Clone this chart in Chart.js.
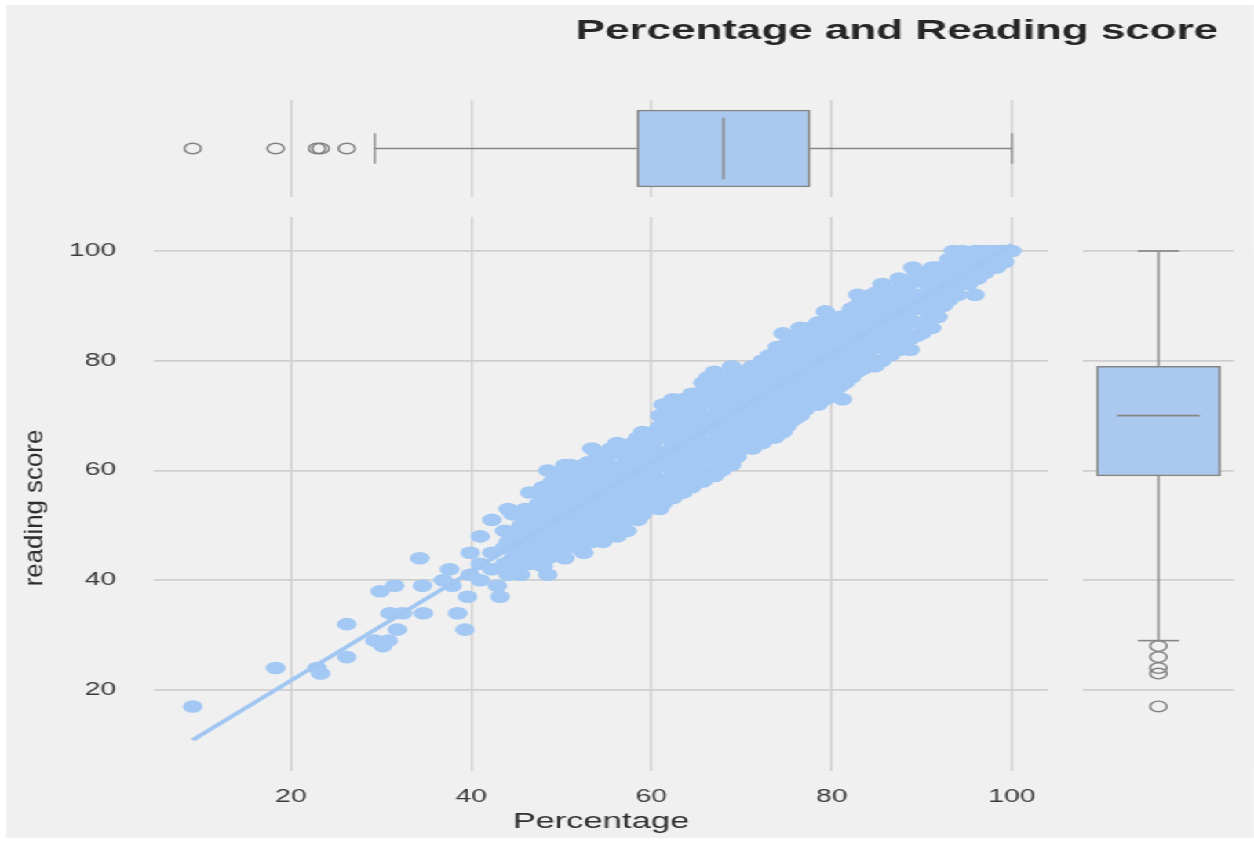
<!DOCTYPE html>
<html>
<head>
<meta charset="utf-8">
<script src="https://cdn.jsdelivr.net/npm/chart.js@4.4.1/dist/chart.umd.min.js"></script>
<style>
  html, body { margin:0; padding:0; background:#ffffff; overflow:hidden; width:1254px; height:843px; }
  #stage { position:absolute; left:0; top:0; width:799px; height:843px; transform:scaleX(1.5695); transform-origin:0 0; }
  #bg { position:absolute; left:3.8px; top:5px; width:795.2px; height:833px; background:#f0f0f0; }
  canvas { position:absolute; }
</style>
</head>
<body>
<div id="stage">
  <div id="bg"></div>
  <canvas id="topBox" width="799" height="205" style="left:0;top:0;"></canvas>
  <canvas id="main" width="680" height="633" style="left:0;top:210px;"></canvas>
  <canvas id="rightBox" width="118" height="633" style="left:681px;top:210px;"></canvas>
</div>
<script>
// ---------------- data ----------------
const percentage = [
  9.1, 18.3, 22.9, 23.3, 26.2, 26.2, 29.3, 29.9, 30.2, 30.8, 31.0, 31.5, 31.8, 32.4,
  34.3, 34.6, 34.7, 36.9, 37.6, 37.9, 38.5, 39.3, 39.6, 39.9, 39.9,
  41.0, 41.0, 41.0, 42.3, 42.3, 42.3, 42.9, 43.2, 43.7, 43.7, 43.7, 44.1, 44.1, 44.1, 44.6, 44.6,
  45.5, 45.5, 45.5, 45.5,
  46.5, 46.5, 46.5, 46.5, 46.5,
  47.5, 47.5, 47.5, 47.5, 47.5,
  48.5, 48.5, 48.5, 48.5, 48.5, 48.5, 48.5,
  49.5, 49.5, 49.5, 49.5, 49.5, 49.5,
  50.4, 50.4, 50.4, 50.4, 50.4, 50.4, 50.4,
  51.5, 51.5, 51.5, 51.5, 51.5, 51.5,
  52.5, 52.5, 52.5, 52.5, 52.5, 52.5, 52.5,
  53.4, 53.4, 53.4, 53.4, 53.4, 53.4, 53.4,
  54.6, 54.6, 54.6, 54.6, 54.6, 54.6, 54.6,
  55.5, 55.5, 55.5, 55.5, 55.5, 55.5, 55.5,
  56.2, 56.2, 56.2, 56.2, 56.2,
  57.3, 57.3, 57.3, 57.3, 57.3, 57.3, 57.3,
  58.5, 58.5, 58.5, 58.5, 58.5, 58.5, 58.5,
  59.5, 59.5, 59.5, 59.5, 59.5, 59.5,
  60.9, 60.9, 60.9, 60.9, 60.9, 60.9, 60.9, 60.9,
  61.3, 61.3,
  62.4, 62.4, 62.4, 62.4, 62.4, 62.4, 62.4, 62.4,
  63.5, 63.5, 63.5, 63.5, 63.5, 63.5, 63.5, 63.5,
  64.5, 64.5, 64.5, 64.5, 64.5, 64.5, 64.5, 64.5,
  65.7, 65.7, 65.7, 65.7, 65.7, 65.7, 65.7, 65.7,
  67.0, 67.0, 67.0, 67.0, 67.0, 67.0, 67.0, 67.0,
  67.8, 67.8, 67.8, 67.8, 67.8, 67.8, 67.8,
  68.9, 68.9, 68.9, 68.9, 68.9, 68.9, 68.9, 68.9,
  70.2, 70.2, 70.2, 70.2, 70.2, 70.2, 70.2,
  71.2, 71.2, 71.2, 71.2, 71.2, 71.2, 71.2,
  72.3, 72.3, 72.3, 72.3, 72.3, 72.3, 72.3,
  73.1, 73.1, 73.1, 73.1, 73.1, 73.1, 73.1,
  73.7, 73.7,
  74.6, 74.6, 74.6, 74.6, 74.6, 74.6, 74.6, 74.6,
  75.5, 75.5, 75.5, 75.5, 75.5, 75.5, 75.5,
  76.5, 76.5, 76.5, 76.5, 76.5, 76.5, 76.5,
  77.6, 77.6, 77.6, 77.6, 77.6, 77.6, 77.6,
  78.5, 78.5, 78.5, 78.5, 78.5, 78.5, 78.5,
  79.3, 79.3, 79.3, 79.3, 79.3, 79.3, 79.3,
  80.6, 80.6, 80.6, 80.6, 80.6, 80.6,
  81.2,
  81.5, 81.5, 81.5, 81.5, 81.5, 81.5,
  82.8, 82.8, 82.8, 82.8, 82.8, 82.8,
  82.9,
  84.0, 84.0, 84.0, 84.0, 84.0, 84.0,
  84.8,
  85.6, 85.6, 85.6, 85.6, 85.6, 85.6,
  86.5, 86.5, 86.5, 86.5, 86.5,
  87.5, 87.5, 87.5, 87.5, 87.5, 87.5,
  88.7, 88.7, 88.7, 88.7, 88.7, 88.7,
  89.0,
  90.0, 90.0, 90.0, 90.0, 90.0, 90.0,
  91.1, 91.1, 91.1, 91.1, 91.1,
  91.2,
  92.4, 92.4, 92.4, 92.4,
  93.5, 93.5, 93.5, 93.5,
  94.5, 94.5, 94.5, 94.5,
  95.9, 95.9, 95.9, 95.9,
  96.7, 96.7, 96.7,
  97.5, 97.5, 97.5,
  98.3, 98.3, 98.3,
  99.2, 99.2,
  99.8, 100.0,
  // second pass through the dense band
  45.0, 45.0, 45.0,
  46.0, 46.0, 46.0, 46.0,
  47.0, 47.0, 47.0, 47.0,
  48.0, 48.0, 48.0, 48.0, 48.0, 48.0,
  49.0, 49.0, 49.0, 49.0, 49.0,
  50.0, 50.0, 50.0, 50.0, 50.0, 50.0,
  51.0, 51.0, 51.0, 51.0, 51.0, 51.0,
  52.0, 52.0, 52.0, 52.0, 52.0, 52.0,
  53.0, 53.0, 53.0, 53.0, 53.0, 53.0,
  54.0, 54.0, 54.0, 54.0, 54.0, 54.0, 54.0,
  55.0, 55.0, 55.0, 55.0, 55.0, 55.0, 55.0,
  56.8, 56.8, 56.8, 56.8, 56.8, 56.8,
  58.0, 58.0, 58.0, 58.0, 58.0, 58.0,
  59.0, 59.0, 59.0, 59.0, 59.0, 59.0, 59.0,
  60.2, 60.2, 60.2, 60.2, 60.2, 60.2,
  61.8, 61.8, 61.8, 61.8, 61.8, 61.8, 61.8,
  63.0, 63.0, 63.0, 63.0, 63.0, 63.0, 63.0,
  64.0, 64.0, 64.0, 64.0, 64.0, 64.0, 64.0,
  65.1, 65.1, 65.1, 65.1, 65.1, 65.1, 65.1,
  66.3, 66.3, 66.3, 66.3, 66.3, 66.3, 66.3, 66.3,
  67.4, 67.4, 67.4, 67.4, 67.4, 67.4, 67.4,
  68.3, 68.3, 68.3, 68.3, 68.3, 68.3, 68.3,
  69.5, 69.5, 69.5, 69.5, 69.5, 69.5, 69.5,
  70.7, 70.7, 70.7, 70.7, 70.7, 70.7,
  71.8, 71.8, 71.8, 71.8, 71.8, 71.8,
  72.8, 72.8, 72.8, 72.8, 72.8, 72.8,
  74.0, 74.0, 74.0, 74.0, 74.0, 74.0, 74.0,
  75.0, 75.0, 75.0, 75.0, 75.0, 75.0, 75.0,
  76.0, 76.0, 76.0, 76.0, 76.0, 76.0, 76.0,
  77.0, 77.0, 77.0, 77.0, 77.0, 77.0, 77.0,
  78.0, 78.0, 78.0, 78.0, 78.0, 78.0,
  79.0, 79.0, 79.0, 79.0, 79.0, 79.0,
  80.0, 80.0, 80.0, 80.0, 80.0, 80.0, 80.0,
  81.0, 81.0, 81.0, 81.0, 81.0, 81.0,
  82.2, 82.2, 82.2, 82.2, 82.2, 82.2,
  83.4, 83.4, 83.4, 83.4, 83.4, 83.4,
  84.4, 84.4, 84.4, 84.4, 84.4, 84.4,
  85.0, 85.0, 85.0, 85.0, 85.0, 85.0,
  86.0, 86.0, 86.0, 86.0, 86.0,
  87.0, 87.0, 87.0, 87.0, 87.0,
  88.1, 88.1, 88.1, 88.1, 88.1,
  89.4, 89.4, 89.4, 89.4, 89.4, 89.4,
  90.6, 90.6, 90.6, 90.6, 90.6,
  91.8, 91.8, 91.8, 91.8, 91.8,
  93.0, 93.0, 93.0, 93.0,
  94.0, 94.0, 94.0, 94.0,
  95.2, 95.2, 95.2,
  96.2, 96.2, 96.2,
  97.0, 97.0,
  98.8, 98.8
];
const readingScore = [
  17, 24, 24, 23, 32, 26, 29, 38, 28, 29, 34, 39, 31, 34,
  44, 39, 34, 40, 42, 39, 34, 31, 37, 45, 41,
  48, 43, 40, 51, 45, 42, 39, 37, 49, 46, 43, 53, 47, 41, 52, 44,
  41, 44, 47, 50,
  56, 52, 49, 46, 43,
  43, 46, 49, 52, 54,
  41, 44, 47, 50, 53, 56, 60,
  45, 48, 51, 54, 57, 59,
  44, 47, 50, 52, 55, 58, 61,
  46, 49, 52, 54, 57, 60,
  45, 48, 51, 53, 56, 58, 61,
  47, 50, 52, 55, 57, 60, 64,
  47, 50, 52, 54, 57, 59, 62,
  49, 51, 54, 56, 59, 61, 64,
  48, 53, 58, 60, 65,
  49, 52, 54, 57, 59, 62, 64,
  51, 54, 56, 59, 61, 64, 66,
  53, 55, 58, 60, 63, 65,
  53, 56, 58, 61, 63, 66, 68, 70,
  54, 72,
  55, 57, 60, 62, 65, 67, 70, 73,
  56, 58, 61, 63, 66, 68, 71, 73,
  57, 59, 62, 64, 67, 69, 72, 74,
  58, 60, 63, 65, 68, 70, 73, 76,
  59, 62, 64, 67, 69, 72, 74, 78,
  60, 62, 65, 68, 71, 73, 76,
  61, 63, 66, 68, 71, 73, 76, 79,
  64, 66, 68, 71, 73, 76, 78,
  64, 66, 69, 71, 74, 76, 79,
  65, 67, 70, 72, 75, 77, 80,
  66, 68, 71, 73, 76, 78, 81,
  66, 68,
  67, 69, 72, 74, 77, 79, 82, 85,
  69, 71, 74, 76, 79, 81, 84,
  70, 72, 75, 77, 80, 82, 86,
  72, 74, 76, 79, 81, 84, 86,
  72, 74, 77, 79, 82, 84, 87,
  73, 76, 78, 81, 83, 86, 89,
  75, 77, 80, 82, 85, 87,
  73,
  76, 78, 81, 83, 86, 88,
  78, 80, 83, 85, 88, 90,
  92,
  79, 81, 84, 86, 89, 91,
  79,
  80, 83, 85, 88, 90, 94,
  81, 83, 86, 88, 91,
  82, 85, 87, 90, 92, 95,
  82, 84, 87, 89, 92, 94,
  97,
  85, 87, 90, 92, 95, 96,
  86, 88, 91, 93, 96,
  97,
  90, 92, 95, 97,
  93, 95, 98, 100,
  94, 96, 99, 100,
  92, 96, 98, 100,
  96, 98, 100,
  97, 99, 100,
  97, 99, 100,
  98, 100,
  100, 100,
  // second pass through the dense band
  42, 45.5, 48.5,
  44, 47.5, 50.5, 53,
  44.5, 47.5, 50.5, 53,
  42.5, 45.5, 48.5, 51.5, 54.5, 57,
  46.5, 49.5, 52.5, 55.5, 58,
  45.5, 48.5, 51, 53.5, 56.5, 59.5,
  47.5, 50.5, 53, 55.5, 58.5, 61,
  46.5, 49.5, 52, 54.5, 57, 59.5,
  48.5, 51, 53.5, 56, 58.5, 61.5,
  48.5, 51, 53.5, 56, 58.5, 61, 63,
  48, 50.5, 53, 55.5, 58, 60.5, 62.5,
  50.5, 53, 55.5, 58, 60.5, 63,
  52.5, 55, 57.5, 60, 62.5, 65,
  52, 54.5, 57, 59.5, 62, 64.5, 67,
  54.5, 57, 59.5, 62, 64.5, 67,
  56, 58.5, 61, 63.5, 66, 68.5, 71,
  57, 59.5, 62, 64.5, 67, 69.5, 72,
  58, 60.5, 63, 65.5, 68, 70.5, 73,
  59, 61.5, 64, 66.5, 69, 71.5, 74,
  60, 62.5, 65, 67.5, 70, 72.5, 75, 77,
  61, 63.5, 66, 69.5, 72, 74.5, 77,
  62, 64, 67, 69.5, 72, 74.5, 77,
  62.5, 65, 67.5, 70, 72.5, 75, 77.5,
  65, 67.5, 70, 72.5, 75, 77.5,
  65.5, 68, 70.5, 73, 75.5, 78,
  67, 69.5, 72, 74.5, 77, 79.5,
  67.5, 70, 72.5, 75, 77.5, 80, 82.5,
  68, 70.5, 73, 75.5, 78, 80.5, 83,
  69.5, 72, 74.5, 77, 79.5, 82, 84.5,
  71, 73.5, 76, 78.5, 81, 83.5, 85,
  73, 75.5, 78, 80.5, 83, 85.5,
  74.5, 77, 79.5, 82, 84.5, 87,
  74, 76.5, 79, 81.5, 84, 86.5, 88,
  75.5, 78, 80.5, 83, 85.5, 88,
  77, 79.5, 82, 84.5, 87, 89.5,
  78.5, 81, 83.5, 86, 88.5, 91,
  80, 82.5, 85, 87.5, 90, 92,
  80, 82.5, 85, 87.5, 90, 92.5,
  82, 84.5, 87, 89.5, 92,
  83, 85.5, 88, 90.5, 93,
  83.5, 86, 88.5, 91, 93.5,
  84.5, 87, 89.5, 92, 94.5, 96,
  86.5, 89, 91.5, 94, 96,
  88, 90.5, 93, 95.5, 97,
  91, 93.5, 96, 98.5,
  92, 94.5, 97, 99,
  94, 96.5, 99,
  95, 97.5, 99.5,
  96, 98.5,
  98, 100
];
// regression line end points
const regressionX = [9.1, 100];
const regressionY = [10.9, 101.2];
// box statistics: [lower whisker, Q1, median, Q3, upper whisker]
const percentageBoxStats = [29.3, 58.4, 68.0, 77.6, 100];
const percentageOutliers = [9.1, 18.3, 22.9, 23.3, 26.2];
const readingBoxStats = [29, 59, 70, 79, 100];
const readingOutliers = [28, 26, 24, 23, 17];
// ticks
const xTicks = [20, 40, 60, 80, 100];
const yTicks = [20, 40, 60, 80, 100];
const titleText = 'Percentage and Reading score';
const xLabelText = 'Percentage';
const yLabelText = 'reading score';

// ---------------- styles ----------------
const FONT = '"Liberation Sans", Arial, Helvetica, sans-serif';
const POINT_COLOR = '#a3c8f3';
const BOX_FILL = '#abc9ee';
const BOX_LINE = '#858585';
const GRID = '#cfcfcf';
const TICK_COLOR = '#3a3a3a';
const TEXT_COLOR = '#2e2e2e';
const X_MIN = 4.8, X_MAX = 104.0, Y_MIN = 5.24, Y_MAX = 106.2;

const setTicks = arr => scale => { scale.ticks = arr.map(v => ({ value: v })); };
const noPad = s => { s.paddingTop = 0; s.paddingBottom = 0; s.paddingLeft = 0; s.paddingRight = 0; };
const baseOpts = {
  responsive: false, maintainAspectRatio: false, animation: false, events: [],
  plugins: { legend: { display: false }, tooltip: { enabled: false }, title: { display: false } }
};
const lineDs = (pts, width) => ({
  type: 'scatter', data: pts, showLine: true, borderColor: BOX_LINE, borderWidth: width || 1.6,
  pointRadius: 0, fill: false, clip: false, order: 0
});
const outlierDs = pts => ({
  type: 'scatter', data: pts, pointRadius: 5.3, pointStyle: 'circle', borderWidth: 1.4,
  borderColor: '#7f7f7f', backgroundColor: 'rgba(0,0,0,0)', clip: false, order: 0
});

// ---------------- main scatter ----------------
const scatterPoints = percentage.map((x, i) => ({ x: x, y: readingScore[i] }));
const regPoints = regressionX.map((x, i) => ({ x: x, y: regressionY[i] }));

const mainTexts = {
  id: 'mainTexts',
  afterDraw(chart) {
    const { ctx, chartArea } = chart;
    ctx.save();
    ctx.fillStyle = TEXT_COLOR;
    ctx.font = '22px ' + FONT;
    ctx.textAlign = 'center';
    ctx.textBaseline = 'alphabetic';
    ctx.fillText(xLabelText, (chartArea.left + chartArea.right) / 2, 618);
    ctx.translate(22.3, 298);
    ctx.rotate(-Math.PI / 2);
    ctx.scale(1.52, 1);
    ctx.font = '17px ' + FONT;
    ctx.textBaseline = 'middle';
    ctx.fillText(yLabelText, 0, 0);
    ctx.restore();
  }
};

new Chart(document.getElementById('main'), {
  type: 'scatter',
  data: {
    datasets: [
      { type: 'line', data: regPoints, borderColor: '#a1c6f2', borderWidth: 3.5, pointRadius: 0, fill: false, order: 0 },
      { type: 'scatter', data: scatterPoints, backgroundColor: POINT_COLOR, borderWidth: 0, pointRadius: 6.3, order: 1 }
    ]
  },
  options: Object.assign({}, baseOpts, {
    layout: { padding: { top: 7, right: 12.3, left: 0, bottom: 0 } },
    scales: {
      x: {
        type: 'linear', min: X_MIN, max: X_MAX,
        afterBuildTicks: setTicks(xTicks),
        afterFit: s => { s.height = 72; noPad(s); },
        grid: { color: GRID, lineWidth: 1.4, drawTicks: false },
        border: { display: false },
        ticks: { padding: 15, color: TICK_COLOR, font: { family: FONT, size: 18 } }
      },
      y: {
        type: 'linear', min: Y_MIN, max: Y_MAX,
        afterBuildTicks: setTicks(yTicks),
        afterFit: s => { s.width = 98.1; noPad(s); },
        grid: { color: GRID, lineWidth: 1.8, drawTicks: false },
        border: { display: false },
        ticks: { padding: 24, color: TICK_COLOR, font: { family: FONT, size: 18 } }
      }
    }
  }),
  plugins: [mainTexts]
});

// ---------------- top box (percentage) ----------------
const TOP_BOX_HALF = 0.794, TOP_CAP_HALF = 0.39;
const [pLo, pQ1, pMed, pQ3, pHi] = percentageBoxStats;
const titlePlugin = {
  id: 'titleText',
  afterDraw(chart) {
    const ctx = chart.ctx;
    ctx.save();
    ctx.fillStyle = '#262626';
    ctx.font = 'bold 28px ' + FONT;
    ctx.textAlign = 'center';
    ctx.textBaseline = 'alphabetic';
    ctx.fillText(titleText, 571.5, 39);
    ctx.restore();
  }
};
new Chart(document.getElementById('topBox'), {
  type: 'scatter',
  data: {
    datasets: [
      { type: 'bar', indexAxis: 'y', data: [{ x: [pQ1, pQ3], y: 0 }], barThickness: 77,
        backgroundColor: BOX_FILL, borderColor: BOX_LINE, borderWidth: 1.7, borderSkipped: false, order: 2 },
      lineDs([{ x: pLo, y: 0 }, { x: pQ1, y: 0 }]),
      lineDs([{ x: pQ3, y: 0 }, { x: pHi, y: 0 }]),
      lineDs([{ x: pLo, y: -TOP_CAP_HALF }, { x: pLo, y: TOP_CAP_HALF }], 1.3),
      lineDs([{ x: pHi, y: -TOP_CAP_HALF }, { x: pHi, y: TOP_CAP_HALF }], 1.3),
      lineDs([{ x: pMed, y: -TOP_BOX_HALF }, { x: pMed, y: TOP_BOX_HALF }], 1.4),
      outlierDs(percentageOutliers.map(v => ({ x: v, y: 0 })))
    ]
  },
  options: Object.assign({}, baseOpts, {
    layout: { padding: { top: 100, bottom: 8, left: 98.1, right: 131.3 } },
    scales: {
      x: {
        type: 'linear', min: X_MIN, max: X_MAX,
        afterBuildTicks: setTicks(xTicks),
        afterFit: s => { s.height = 0; noPad(s); },
        grid: { color: GRID, lineWidth: 1.4, drawTicks: false },
        border: { display: false },
        ticks: { display: false }
      },
      y: { type: 'linear', min: -1, max: 1, display: false }
    }
  }),
  plugins: [titlePlugin]
});

// ---------------- right box (reading score) ----------------
const RIGHT_BOX_HALF = 0.82, RIGHT_CAP_HALF = 0.41;
const [rLo, rQ1, rMed, rQ3, rHi] = readingBoxStats;
new Chart(document.getElementById('rightBox'), {
  type: 'scatter',
  data: {
    datasets: [
      { type: 'bar', data: [{ x: 0, y: [rQ1, rQ3] }], barThickness: 79,
        backgroundColor: BOX_FILL, borderColor: BOX_LINE, borderWidth: 1.6, borderSkipped: false, order: 2 },
      lineDs([{ x: 0, y: rQ3 }, { x: 0, y: rHi }], 1.3),
      lineDs([{ x: 0, y: rQ1 }, { x: 0, y: rLo }], 1.3),
      lineDs([{ x: -RIGHT_CAP_HALF, y: rHi }, { x: RIGHT_CAP_HALF, y: rHi }]),
      lineDs([{ x: -RIGHT_CAP_HALF, y: rLo }, { x: RIGHT_CAP_HALF, y: rLo }]),
      lineDs([{ x: -RIGHT_BOX_HALF, y: rMed }, { x: RIGHT_BOX_HALF, y: rMed }]),
      outlierDs(readingOutliers.map(v => ({ x: 0, y: v })))
    ]
  },
  options: Object.assign({}, baseOpts, {
    layout: { padding: { top: 7, bottom: 72, left: 9.0, right: 12.8 } },
    scales: {
      x: { type: 'linear', min: -1, max: 1, display: false },
      y: {
        type: 'linear', min: Y_MIN, max: Y_MAX,
        afterBuildTicks: setTicks(yTicks),
        afterFit: s => { s.width = 0; noPad(s); },
        grid: { color: GRID, lineWidth: 1.8, drawTicks: false },
        border: { display: false },
        ticks: { display: false }
      }
    }
  })
});
</script>
</body>
</html>
